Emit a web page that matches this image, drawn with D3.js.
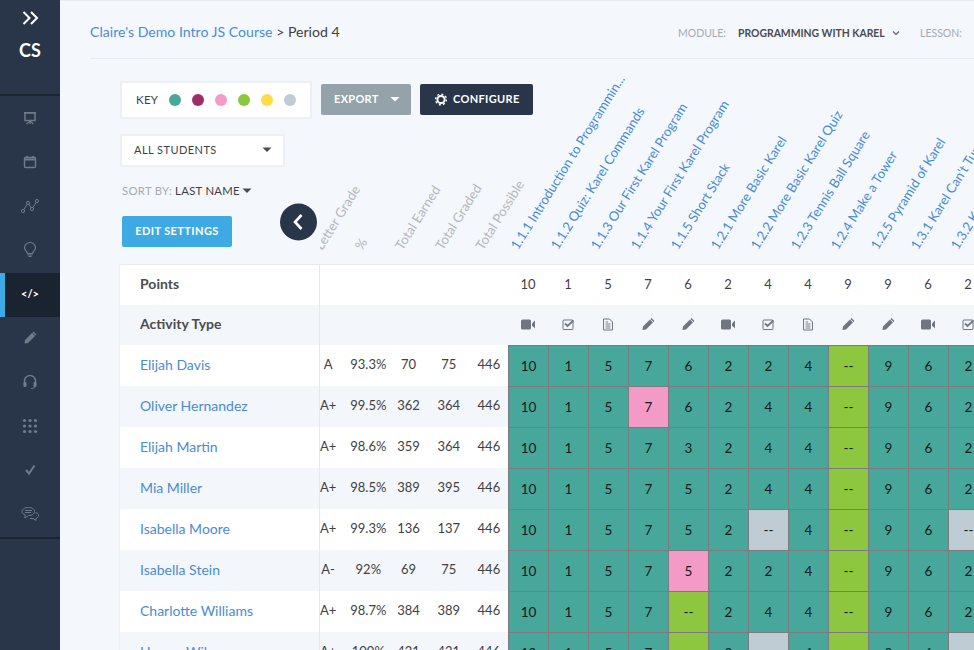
<!DOCTYPE html>
<html>
<head>
<meta charset="utf-8">
<script src="https://cdn.jsdelivr.net/npm/d3@7"></script>
<style>
  html, body { margin: 0; padding: 0; background: #f4f7fc; overflow: hidden; }
  svg { display: block; font-family: Lato, "Open Sans", sans-serif; }
</style>
</head>
<body>
<svg id="chart" width="974" height="650"></svg>
<script>
const students = ["Elijah Davis", "Oliver Hernandez", "Elijah Martin", "Mia Miller", "Isabella Moore", "Isabella Stein", "Charlotte Williams", "Harper Wilson"];
const letterGrades = ["A", "A+", "A+", "A+", "A+", "A-", "A+", "A+"];
const percents = ["93.3%", "99.5%", "98.6%", "98.5%", "99.3%", "92%", "98.7%", "100%"];
const totalEarned = [70, 362, 359, 389, 136, 69, 384, 421];
const totalGraded = [75, 364, 364, 395, 137, 75, 389, 421];
const totalPossible = [446, 446, 446, 446, 446, 446, 446, 446];

const statLabels = ["Letter Grade", "%", "Total Earned", "Total Graded", "Total Possible"];
const activities = ["1.1.1 Introduction to Programmin...", "1.1.2 Quiz: Karel Commands", "1.1.3 Our First Karel Program", "1.1.4 Your First Karel Program", "1.1.5 Short Stack", "1.2.1 More Basic Karel", "1.2.2 More Basic Karel Quiz", "1.2.3 Tennis Ball Square", "1.2.4 Make a Tower", "1.2.5 Pyramid of Karel", "1.3.1 Karel Can't Turn Right", "1.3.2 Karel"];
const points = [10, 1, 5, 7, 6, 2, 4, 4, 9, 9, 6, 2];
const activityTypes = ["video", "quiz", "doc", "pencil", "pencil", "video", "quiz", "doc", "pencil", "pencil", "video", "quiz"];

const scores = [
  ["10", "1", "5", "7", "6", "2", "2", "4", "--", "9", "6", "2"],
  ["10", "1", "5", "7", "6", "2", "4", "4", "--", "9", "6", "2"],
  ["10", "1", "5", "7", "3", "2", "4", "4", "--", "9", "6", "2"],
  ["10", "1", "5", "7", "5", "2", "4", "4", "--", "9", "6", "2"],
  ["10", "1", "5", "7", "5", "2", "--", "4", "--", "9", "6", "--"],
  ["10", "1", "5", "7", "5", "2", "2", "4", "--", "9", "6", "2"],
  ["10", "1", "5", "7", "--", "2", "4", "4", "--", "9", "6", "2"],
  ["10", "1", "5", "7", "--", "2", "--", "4", "--", "9", "6", "--"]
];
// d = done, p = pink, g = green, n = not assigned
const statuses = [
  "dddddddd" + "gddd",
  "dddpdddd" + "gddd",
  "dddddddd" + "gddd",
  "dddddddd" + "gddd",
  "ddddddnd" + "gddn",
  "ddddpddd" + "gddd",
  "ddddgddd" + "gddd",
  "ddddgdnd" + "gddn"
];
const keyColors = ["#48a79b", "#a02c65", "#f39ac6", "#8dc63f", "#fedc46", "#bfccd4"];
const sideIcons = ["board", "calendar", "line", "bulb", "code", "pencil", "headset", "dots", "check", "chat"];

const navy = "#293649";
const blue = "#4a8cd3";
const ink = "#3f3f44";
const tint = "#f3f6fb";

const svg = d3.select("#chart");
const statusColor = d3.scaleOrdinal().domain(["d", "m", "p", "g", "y", "n"]).range(keyColors);
const xCol = d3.scaleBand().domain(d3.range(points.length)).range([508, 988]);
const yRow = d3.scaleBand().domain(students).range([345, 673]);
const xStat = d3.scaleBand().domain(statLabels).range([308, 509]);
const xKey = d3.scalePoint().domain(keyColors).range([175, 290]);
const ySide = d3.scalePoint().domain(sideIcons).range([118, 514]);

function text(parent, str, x, y, size, fill, opts = {}) {
  return parent.append("text")
    .attr("x", x).attr("y", y).attr("dy", "0.35em")
    .attr("font-size", size).attr("fill", fill)
    .attr("font-weight", opts.weight || 400)
    .attr("text-anchor", opts.anchor || "start")
    .attr("letter-spacing", opts.spacing || 0)
    .text(str);
}

function caret(cx, cy, fill, w = 4.5) {
  svg.append("path").attr("fill", fill)
    .attr("d", `M${cx - w},${cy - 2}h${w * 2}l-${w},${w}z`);
}

// icons, all drawn around 0,0
const icons = {
  video: (g, c) => {
    g.append("rect").attr("x", -7).attr("y", -5).attr("width", 10).attr("height", 10).attr("rx", 1.5).attr("fill", c);
    g.append("path").attr("d", "M4,-1L7,-4V4L4,1z").attr("fill", c);
  },
  quiz: (g, c) => {
    g.append("rect").attr("x", -5).attr("y", -4.5).attr("width", 10).attr("height", 9.5).attr("rx", 1).attr("fill", "none").attr("stroke", c).attr("stroke-width", 1);
    g.append("path").attr("d", "M-3,-1L-.5,1.5L5.5,-4").attr("fill", "none").attr("stroke", c).attr("stroke-width", 1.8);
  },
  doc: (g, c) => {
    g.append("path").attr("d", "M-4.5,-5.5H1.5L4.5,-2.5V5.5H-4.5z").attr("fill", "none").attr("stroke", c);
    g.append("path").attr("d", "M-2.5,-.5H2.5M-2.5,1.5H2.5M-2.5,3.5H2.5M-2.5,-2.5H0").attr("stroke", c).attr("stroke-width", 0.9);
  },
  pencil: (g, c) => {
    g.append("path").attr("d", "M-5.5,5.5L-5,2L2,-5L5,-2L-2,5z").attr("fill", c);
    g.append("path").attr("d", "M3,-6L6,-3").attr("stroke", c).attr("stroke-width", 1.5);
  },
  board: (g, c) => {
    g.append("rect").attr("x", -5).attr("y", -5).attr("width", 10).attr("height", 7.5).attr("fill", "none").attr("stroke", c).attr("stroke-width", 1.5);
    g.append("path").attr("d", "M-6,-5.5H6M0,2.5V6M-3.5,6L0,3L3.5,6").attr("fill", "none").attr("stroke", c).attr("stroke-width", 1.2);
  },
  calendar: (g, c) => {
    g.append("rect").attr("x", -5.5).attr("y", -4.5).attr("width", 11).attr("height", 10).attr("rx", 1).attr("fill", "none").attr("stroke", c).attr("stroke-width", 1.4);
    g.append("path").attr("d", "M-5.5,-2.5H5.5M-3,-6V-4M3,-6V-4").attr("stroke", c).attr("stroke-width", 1.8);
  },
  line: (g, c) => {
    g.append("path").attr("d", "M-7,5L-2,-3L2,3L7,-5").attr("fill", "none").attr("stroke", c);
    [[-7, 5], [-2, -3], [2, 3], [7, -5]].forEach(p =>
      g.append("circle").attr("cx", p[0]).attr("cy", p[1]).attr("r", 1.6).attr("fill", navy).attr("stroke", c));
  },
  bulb: (g, c) => {
    g.append("path").attr("d", "M-2.5,3.5C-3,1 -5.5,0 -5.5,-2A5.5,5.5 0 0 1 5.5,-2C5.5,0 3,1 2.5,3.5z").attr("fill", "none").attr("stroke", c).attr("stroke-width", 1.2);
    g.append("path").attr("d", "M-2.5,5H2.5M-1.5,6.5H1.5").attr("stroke", c).attr("stroke-width", 1.2);
  },
  headset: (g, c) => {
    g.append("path").attr("d", "M-5.5,3V-1A5.5,5.5 0 0 1 5.5,-1V3").attr("fill", "none").attr("stroke", c).attr("stroke-width", 1.4);
    g.append("rect").attr("x", -6.5).attr("y", 0).attr("width", 3).attr("height", 5).attr("rx", 1).attr("fill", c);
    g.append("rect").attr("x", 3.5).attr("y", 0).attr("width", 3).attr("height", 5).attr("rx", 1).attr("fill", c);
    g.append("path").attr("d", "M5,5Q4,6.5 1,6.5").attr("fill", "none").attr("stroke", c);
  },
  dots: (g, c) => {
    d3.cross([-5.5, 0, 5.5], [-5.5, 0, 5.5]).forEach(p =>
      g.append("circle").attr("cx", p[0]).attr("cy", p[1]).attr("r", 1.6).attr("fill", c));
  },
  check: (g, c) => {
    g.append("path").attr("d", "M-4,0L-1,3.5L4.5,-4.5").attr("fill", "none").attr("stroke", c).attr("stroke-width", 2);
  },
  chat: (g, c) => {
    g.append("path").attr("d", "M-8,-2.5C-8,-5 -5,-6.5 -1.5,-6.5C2,-6.5 4.5,-5 4.5,-2.5C4.5,0 2,1.5 -1.5,1.5L-5,4V.5C-7,0 -8,-1 -8,-2.5z").attr("fill", navy).attr("stroke", c);
    g.append("path").attr("d", "M5.5,-1.5C7.5,-1 8.5,0 8.5,1.5C8.5,3 7,4 6,4.5V6.5L3,4.5H0").attr("fill", "none").attr("stroke", c);
    g.append("path").attr("d", "M-5,-3.5H2M-5,-1.5H1").attr("stroke", c);
  }
};

// page chrome
svg.append("rect").attr("x", 60).attr("width", 914).attr("height", 1).attr("fill", "#e6e9ee");
svg.append("rect").attr("x", 90).attr("y", 58).attr("width", 884).attr("height", 1).attr("fill", "#e9ecf1");

const crumb = text(svg, "Claire's Demo Intro JS Course", 90, 32, 14.1, blue);
crumb.append("tspan").attr("fill", ink).text(" > Period 4");
text(svg, "MODULE:", 678, 33, 10.5, "#a5abb2");
text(svg, "PROGRAMMING WITH KAREL", 738, 33, 10.4, "#4a4a4f", { weight: 700 });
svg.append("path").attr("d", "M893,31.5L896,34.5L899,31.5").attr("fill", "none").attr("stroke", "#56606c").attr("stroke-width", 1.2);
text(svg, "LESSON:", 920, 33, 10.5, "#a5abb2");

// sidebar
svg.append("rect").attr("width", 60).attr("height", 650).attr("fill", navy);
svg.append("path").attr("d", "M23.5,12L29.5,18L23.5,24M31,12L37,18L31,24").attr("fill", "none").attr("stroke", "#fff").attr("stroke-width", 2);
text(svg, "CS", 30, 51, 18, "#fff", { anchor: "middle", weight: 700 });
svg.append("rect").attr("y", 94).attr("width", 60).attr("height", 2).attr("fill", "#1b2431");
svg.append("rect").attr("y", 537).attr("width", 60).attr("height", 2).attr("fill", "#1b2431");
svg.append("rect").attr("y", 273).attr("width", 60).attr("height", 44).attr("fill", "#1a2430");
svg.append("rect").attr("y", 273).attr("width", 5).attr("height", 44).attr("fill", "#3eaae3");
sideIcons.forEach(name => {
  if (name === "code") {
    text(svg, "</>", 30, ySide(name), 11, "#fff", { anchor: "middle", weight: 700 });
    return;
  }
  const g = svg.append("g").attr("transform", `translate(30,${ySide(name)})`);
  icons[name](g, "#6f7b89");
});

// key + controls
svg.append("rect").attr("x", 121).attr("y", 82).attr("width", 190).attr("height", 36).attr("fill", "#fff").attr("stroke", "#eceff4").attr("stroke-width", 2);
text(svg, "KEY", 136, 100, 11.5, ink, { spacing: 0.3 });
svg.selectAll("circle.key").data(keyColors).join("circle")
  .attr("class", "key")
  .attr("cx", d => xKey(d)).attr("cy", 100).attr("r", 6)
  .attr("fill", d => d);

svg.append("rect").attr("x", 321).attr("y", 84).attr("width", 90).attr("height", 31).attr("rx", 2).attr("fill", "#93a3a9");
text(svg, "EXPORT", 334, 99.5, 11, "#fff", { weight: 700, spacing: 0.3 });
caret(395, 99, "#fff");
svg.append("rect").attr("x", 420).attr("y", 84).attr("width", 113).attr("height", 31).attr("rx", 2).attr("fill", navy);
svg.append("circle").attr("cx", 441).attr("cy", 99.5).attr("r", 3.6).attr("fill", "none").attr("stroke", "#fff").attr("stroke-width", 2);
svg.append("circle").attr("cx", 441).attr("cy", 99.5).attr("r", 5.4).attr("fill", "none").attr("stroke", "#fff").attr("stroke-width", 1.4).attr("stroke-dasharray", "2 2.2");
text(svg, "CONFIGURE", 453, 99.5, 11, "#fff", { weight: 700, spacing: 0.35 });

svg.append("rect").attr("x", 121).attr("y", 135).attr("width", 163).attr("height", 31).attr("fill", "#fff").attr("stroke", "#eceff4").attr("stroke-width", 2);
text(svg, "ALL STUDENTS", 134, 150, 11, ink, { spacing: 0.45 });
caret(267, 149.5, "#4a4a4f");

const sort = text(svg, "SORT BY:", 122, 191, 11.3, "#a5abb2", { spacing: 0.3 });
sort.append("tspan").attr("fill", ink).attr("dx", 3).text("LAST NAME");
caret(247, 190.5, "#4a4a4f");

svg.append("rect").attr("x", 122).attr("y", 216).attr("width", 110).attr("height", 31).attr("rx", 2).attr("fill", "#3eaae3");
text(svg, "EDIT SETTINGS", 177, 231, 11, "#fff", { anchor: "middle", weight: 700, spacing: 0.4 });

// rotated column heads
svg.append("clipPath").attr("id", "head-clip").append("rect")
  .attr("x", 320).attr("y", 60).attr("width", 654).attr("height", 205);
const heads = svg.append("g").attr("clip-path", "url(#head-clip)");
heads.selectAll("text.stat").data(statLabels).join("text")
  .attr("class", "stat")
  .attr("transform", d => `translate(${xStat(d) + xStat.bandwidth() / 2 - 6},251) rotate(-58)`)
  .attr("font-size", 13.3).attr("fill", "#b4b8bd")
  .text(d => d);
heads.selectAll("text.activity").data(activities).join("text")
  .attr("class", "activity")
  .attr("transform", (d, i) => `translate(${xCol(i) + xCol.bandwidth() / 2 - 10},250.5) rotate(-58)`)
  .attr("font-size", 13.2).attr("fill", blue)
  .text(d => d);

svg.append("circle").attr("cx", 298.5).attr("cy", 222).attr("r", 18.5).attr("fill", navy);
svg.append("path").attr("d", "M301.5,215L295,222L301.5,229").attr("fill", "none").attr("stroke", "#fff").attr("stroke-width", 2.6);

// table rows
svg.append("rect").attr("x", 120).attr("y", 265).attr("width", 854).attr("height", 40).attr("fill", "#fff");
svg.append("rect").attr("x", 120).attr("y", 305).attr("width", 854).attr("height", 40).attr("fill", tint);
svg.append("rect").attr("x", 119).attr("y", 264).attr("width", 855).attr("height", 1).attr("fill", "#e8ebf0");
svg.selectAll("rect.row").data(students).join("rect")
  .attr("class", "row")
  .attr("x", 120).attr("y", d => yRow(d))
  .attr("width", 388).attr("height", yRow.bandwidth())
  .attr("fill", (d, i) => (i % 2 ? tint : "#fff"));
svg.append("rect").attr("x", 319).attr("y", 265).attr("width", 1).attr("height", 385).attr("fill", "#e5e9ef");
svg.append("rect").attr("x", 119).attr("y", 265).attr("width", 1).attr("height", 385).attr("fill", "#eef1f5");

text(svg, "Points", 140, 284, 14, "#4c4c50", { weight: 700 });
text(svg, "Activity Type", 140, 324, 14, "#4c4c50", { weight: 700 });

points.forEach((p, i) => {
  const cx = xCol(i) + xCol.bandwidth() / 2;
  text(svg, p, cx, 284, 13, ink, { anchor: "middle" });
  icons[activityTypes[i]](svg.append("g").attr("transform", `translate(${cx},324.5)`), "#6f7680");
});

// student rows
students.forEach((name, r) => {
  const cy = yRow(name) + yRow.bandwidth() / 2 - 0.5;
  text(svg, name, 140, cy, 14, blue);
  [letterGrades[r], percents[r], totalEarned[r], totalGraded[r], totalPossible[r]].forEach((v, i) => {
    const cx = xStat(statLabels[i]) + xStat.bandwidth() / 2;
    text(svg, v, cx, cy - 1, 13, ink, { anchor: "middle" });
  });
});

// score grid
const cells = students.flatMap((name, r) =>
  scores[r].map((v, c) => ({ name, c, v, status: statuses[r][c] })));
svg.selectAll("rect.cell").data(cells).join("rect")
  .attr("class", "cell")
  .attr("x", d => xCol(d.c) + 0.5).attr("y", d => yRow(d.name) + 0.5)
  .attr("width", xCol.bandwidth()).attr("height", yRow.bandwidth())
  .attr("fill", d => statusColor(d.status))
  .attr("stroke", "#7a7a80").attr("stroke-width", 1);
svg.selectAll("text.cell").data(cells).join("text")
  .attr("class", "cell")
  .attr("x", d => xCol(d.c) + xCol.bandwidth() / 2 + 0.5)
  .attr("y", d => yRow(d.name) + yRow.bandwidth() / 2 + 0.5)
  .attr("dy", "0.35em").attr("text-anchor", "middle")
  .attr("font-size", 13.5).attr("fill", "#101a19")
  .text(d => d.v);
</script>
</body>
</html>
